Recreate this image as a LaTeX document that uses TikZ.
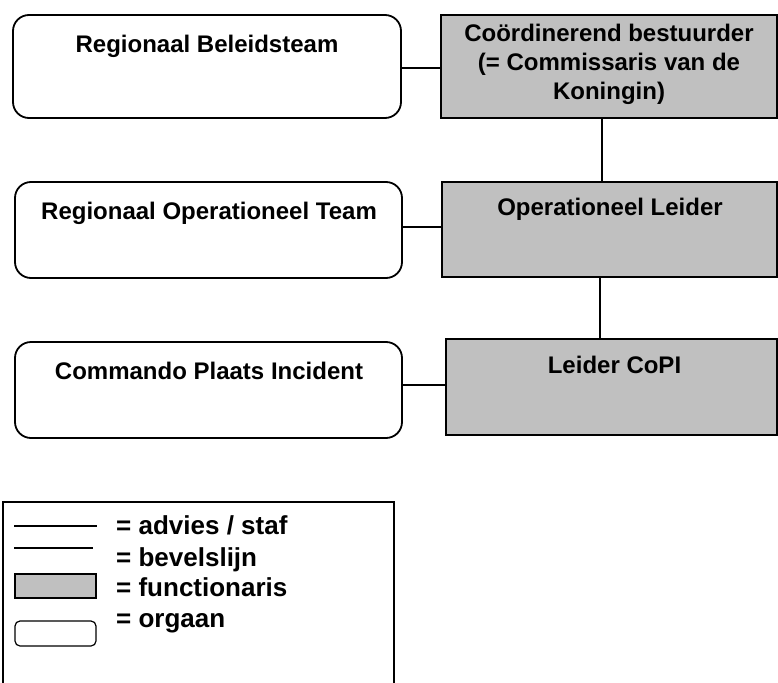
\documentclass[tikz,border=0pt]{standalone}
\usepackage{fontspec}
\setmainfont{Liberation Sans}
\definecolor{boxgray}{RGB}{192,192,192}
\tikzset{
  organ/.style={draw=black, line width=1.8pt, rounded corners=16pt, fill=white},
  functie/.style={draw=black, line width=1.8pt, fill=boxgray},
  lbl/.style={font=\bfseries\fontsize{24}{29}\selectfont, align=center, inner sep=0pt},
  leglbl/.style={font=\bfseries\fontsize{26}{31}\selectfont, anchor=base west, inner sep=0pt},
  conn/.style={line width=2.6pt},
}
\begin{document}
\begin{tikzpicture}[x=1pt,y=-1pt]
\useasboundingbox (0,0) rectangle (778,682);
% boxes
\draw[organ] (13,15) rectangle (401,118);
\draw[functie] (441,15) rectangle (777,118);
\draw[organ] (15,182) rectangle (402,278);
\draw[functie] (442,182) rectangle (777,277);
\draw[organ] (15,342) rectangle (402,438);
\draw[functie] (446,339) rectangle (777,435);
% anchor coordinates
\coordinate (rbR) at (401,68);
\coordinate (cbL) at (441,68);
\coordinate (cbB) at (602,118);
\coordinate (olT) at (602,182);
\coordinate (rotR) at (402,227);
\coordinate (olL) at (442,227);
\coordinate (olB) at (600,277);
\coordinate (lcT) at (600,339);
\coordinate (cpiR) at (402,385);
\coordinate (lcL) at (446,385);
% texts
\node[lbl, anchor=base] (rb) at (207,53) {Regionaal Beleidsteam};
\node[lbl] (cb) at (609,64.5) {Coördinerend bestuurder\\(= Commissaris van de\\Koningin)};
\node[lbl, anchor=base] (rot) at (209,219) {Regionaal Operationeel Team};
\node[lbl, anchor=base] (ol) at (610,215) {Operationeel Leider};
\node[lbl, anchor=base] (cpi) at (209,379) {Commando Plaats Incident};
\node[lbl, anchor=base] (lc) at (614.5,373) {Leider CoPI};
% connectors
\draw[conn] (rbR) -- (cbL);
\draw[conn] (cbB) -- (olT);
\draw[conn] (rotR) -- (olL);
\draw[conn] (olB) -- (lcT);
\draw[conn] (cpiR) -- (lcL);
% legend
\draw[line width=1.2pt] (3,690) -- (3,502) -- (394,502) -- (394,690);
\coordinate (l1a) at (14,526); \coordinate (l1b) at (97,526);
\coordinate (l2a) at (14,548); \coordinate (l2b) at (93,548);
\draw[conn, line width=2.4pt] (l1a) -- (l1b);
\draw[conn, line width=2.4pt] (l2a) -- (l2b);
\draw[draw=black, line width=1.2pt, fill=boxgray] (15,574) rectangle (96,598);
\draw[draw=black, line width=1.2pt, rounded corners=5pt, fill=white] (15,621) rectangle (96,646);
\node[leglbl] (t1) at (116,534) {= advies / staf};
\node[leglbl] (t2) at (116,566) {= bevelslijn};
\node[leglbl] (t3) at (116,596) {= functionaris};
\node[leglbl] (t4) at (116,627) {= orgaan};
\end{tikzpicture}
\end{document}
